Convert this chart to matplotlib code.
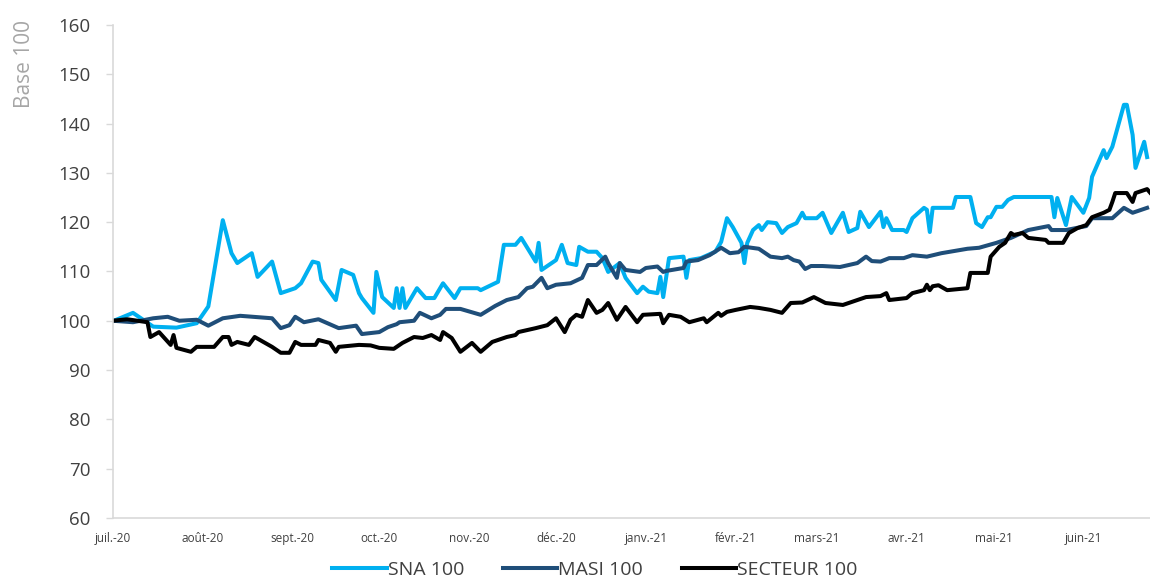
import matplotlib
matplotlib.use("Agg")
import matplotlib.pyplot as plt
import pandas as pd

# --- data (day = days since 1 July 2020) ---
start = pd.Timestamp("2020-07-01")

sna_days = [0, 7, 14, 22, 29, 33, 38, 41, 43, 48, 50, 55, 58, 63, 65, 69, 71, 72, 77, 79,
            83, 85, 86, 90, 91, 93, 97, 98, 99, 100, 101, 105, 108, 111, 114, 118, 120, 126, 127, 133,
            135, 139, 141, 146, 147, 148, 153, 155, 157, 160, 161, 164, 167, 169, 171, 175, 177, 181, 183, 185,
            188, 189, 190, 192, 197, 198, 199, 203, 208, 210, 212, 214, 217, 218, 219, 221, 223, 224, 226, 229,
            231, 233, 236, 238, 239, 243, 245, 248, 252, 254, 257, 258, 261, 265, 266, 267, 269, 273, 274, 276,
            280, 281, 282, 283, 290, 291, 296, 298, 300, 302, 303, 305, 307, 309, 311, 324, 325, 326, 329, 331,
            335, 337, 338, 342, 343, 345, 349, 350, 352, 353, 356, 357]
sna_vals = [99.9, 101.6, 98.8, 98.6, 99.5, 102.9, 120.4, 113.7, 111.7, 113.7, 108.9, 112.0, 105.6, 106.6, 107.6, 112.0, 111.7, 108.3, 104.2, 110.3,
            109.3, 105.6, 104.6, 101.6, 109.9, 104.8, 102.6, 106.6, 102.6, 106.6, 102.6, 106.6, 104.6, 104.6, 107.6, 104.6, 106.6, 106.6, 106.2, 107.9,
            115.4, 115.4, 116.8, 112.0, 115.8, 110.3, 112.3, 115.4, 111.7, 111.3, 115.0, 114.0, 114.0, 112.7, 109.9, 111.7, 108.7, 105.6, 106.9, 105.9,
            105.6, 108.9, 104.8, 112.7, 113.0, 108.7, 112.3, 112.7, 114.0, 116.0, 120.8, 119.0, 115.8, 111.7, 115.8, 118.4, 119.4, 118.4, 120.0, 119.8,
            117.8, 119.0, 119.8, 121.9, 120.8, 120.8, 121.9, 117.8, 121.9, 118.0, 118.8, 122.1, 119.0, 122.1, 119.0, 120.8, 118.4, 118.4, 118.0, 120.8,
            122.9, 122.5, 118.0, 122.9, 122.9, 125.1, 125.1, 119.8, 119.0, 121.0, 121.0, 123.1, 123.1, 124.5, 125.1, 125.1, 121.0, 124.9, 119.4, 125.1,
            121.9, 124.9, 129.2, 134.6, 133.0, 135.3, 143.8, 143.8, 137.7, 131.0, 136.3, 133.2]

masi_days = [0, 7, 14, 19, 23, 29, 33, 38, 44, 55, 58, 61, 63, 66, 71, 78, 84, 86, 92, 95,
             98, 99, 104, 106, 110, 113, 115, 120, 127, 132, 136, 140, 143, 145, 148, 150, 153, 158, 162, 164,
             167, 170, 171, 174, 175, 177, 182, 184, 188, 190, 191, 197, 198, 202, 206, 210, 213, 216, 218, 223,
             227, 231, 233, 235, 237, 239, 241, 245, 251, 254, 257, 260, 262, 265, 268, 273, 276, 281, 286, 295,
             299, 305, 310, 316, 323, 324, 329, 336, 338, 345, 349, 352, 357]
masi_vals = [100.0, 99.7, 100.5, 100.8, 100.0, 100.2, 99.0, 100.5, 101.0, 100.5, 98.5, 99.1, 100.8, 99.7, 100.3, 98.5, 99.0, 97.3, 97.7, 98.7,
             99.3, 99.7, 100.0, 101.6, 100.5, 101.2, 102.4, 102.4, 101.2, 103.0, 104.2, 104.8, 106.6, 106.9, 108.7, 106.6, 107.3, 107.6, 108.7, 111.3,
             111.3, 113.0, 111.7, 108.7, 111.7, 110.3, 109.9, 110.7, 111.0, 109.9, 110.1, 110.7, 112.0, 112.3, 113.3, 114.8, 113.7, 113.9, 115.0, 114.6,
             113.0, 112.7, 113.0, 112.3, 112.0, 110.5, 111.1, 111.1, 110.9, 111.3, 111.7, 113.0, 112.1, 112.0, 112.7, 112.7, 113.3, 113.0, 113.7, 114.6,
             114.8, 115.8, 116.8, 118.4, 119.2, 118.4, 118.4, 119.2, 120.8, 120.8, 122.9, 121.9, 122.9]

sect_days = [0, 5, 12, 13, 16, 20, 21, 22, 27, 29, 35, 38, 40, 41, 43, 47, 49, 55, 58, 61,
             63, 65, 70, 71, 75, 77, 78, 85, 89, 92, 97, 100, 104, 107, 110, 113, 114, 117, 120, 124,
             127, 131, 136, 139, 140, 146, 150, 153, 156, 158, 160, 162, 164, 167, 169, 171, 174, 177, 181, 183,
             189, 190, 192, 196, 199, 204, 205, 209, 210, 212, 215, 220, 223, 227, 231, 234, 238, 242, 246, 252,
             255, 260, 265, 267, 268, 274, 276, 280, 281, 282, 283, 285, 288, 295, 296, 302, 303, 306, 308, 310,
             311, 314, 316, 322, 323, 328, 330, 333, 336, 338, 342, 344, 345, 346, 350, 352, 353, 357, 358]
sect_vals = [100.0, 100.3, 99.7, 96.7, 97.7, 95.1, 97.1, 94.5, 93.7, 94.7, 94.7, 96.7, 96.7, 95.1, 95.7, 95.1, 96.7, 94.7, 93.5, 93.5,
             95.7, 95.1, 95.1, 96.1, 95.5, 93.7, 94.7, 95.1, 95.0, 94.5, 94.3, 95.5, 96.7, 96.5, 97.1, 96.1, 97.7, 96.5, 93.7, 95.5,
             93.7, 95.7, 96.7, 97.1, 97.7, 98.5, 99.1, 100.5, 97.7, 100.2, 101.2, 100.8, 104.2, 101.6, 102.2, 103.6, 100.2, 102.8, 99.7, 101.2,
             101.4, 99.5, 101.2, 100.8, 99.7, 100.5, 99.7, 101.6, 101.0, 101.8, 102.2, 102.8, 102.6, 102.2, 101.6, 103.6, 103.7, 104.8, 103.6, 103.2,
             103.8, 104.8, 105.0, 105.6, 104.2, 104.6, 105.6, 106.2, 107.3, 106.2, 107.0, 107.2, 106.2, 106.6, 109.7, 109.7, 113.0, 115.0, 115.8, 117.8,
             117.4, 117.8, 116.8, 116.4, 115.8, 115.8, 117.8, 118.8, 119.4, 121.0, 121.9, 122.5, 124.1, 125.9, 125.9, 124.1, 125.9, 126.7, 126.0]

month_labels = ["juil.-20", "août-20", "sept.-20", "oct.-20", "nov.-20", "déc.-20",
                "janv.-21", "févr.-21", "mars-21", "avr.-21", "mai-21", "juin-21"]

plt.rcParams["font.family"] = ["Open Sans", "DejaVu Sans"]

fig = plt.figure(figsize=(11.5, 5.8), dpi=100)
ax = fig.add_axes([0.098, 0.107, 0.902, 0.85])

def to_dates(days):
    return [start + pd.Timedelta(days=d) for d in days]

ax.plot(to_dates(sna_days), sna_vals, color="#00B0F0", lw=2.9, label="SNA 100", solid_joinstyle="round")
ax.plot(to_dates(masi_days), masi_vals, color="#1F4E79", lw=2.9, label="MASI 100", solid_joinstyle="round")
ax.plot(to_dates(sect_days), sect_vals, color="black", lw=2.9, label="SECTEUR 100", solid_joinstyle="round")

ax.set_ylim(60, 160)
ax.set_yticks(range(60, 161, 10))
ax.set_xlim(start, start + pd.Timedelta(days=358))

ticks = pd.date_range("2020-07-01", periods=12, freq="MS")
ax.set_xticks(ticks)
ax.set_xticklabels(month_labels, fontsize=8.5, color="#404040")
ax.tick_params(axis="x", length=0, pad=10)
ax.tick_params(axis="y", labelsize=13.5, colors="#404040", length=5, width=1, color="#D9D9D9", pad=11)

for s in ["top", "right"]:
    ax.spines[s].set_visible(False)
for s in ["left", "bottom"]:
    ax.spines[s].set_color("#D9D9D9")
    ax.spines[s].set_linewidth(1.2)

ax.set_ylabel("Base 100", fontsize=15, color="#A6A6A6")
ax.yaxis.set_label_coords(-0.075, 0.92)

leg = ax.legend(loc="upper center", bbox_to_anchor=(0.465, -0.08), ncol=3, frameon=False,
                fontsize=14, handlelength=2.8, handletextpad=0.05, columnspacing=2.0,
                borderaxespad=0.0, borderpad=0.2)
for t in leg.get_texts():
    t.set_color("#404040")

fig.savefig("out.png", dpi=100)
